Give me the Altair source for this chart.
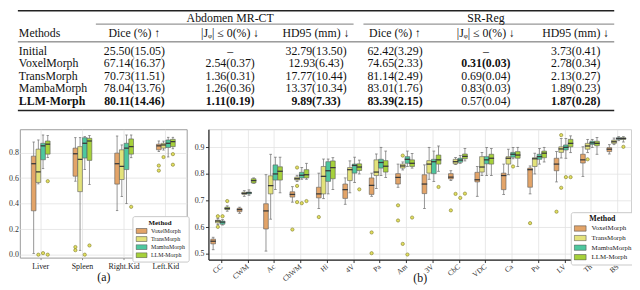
import altair as alt
import pandas as pd

FONT = "Liberation Serif"
METHODS = ["VoxelMorph", "TransMorph", "MambaMorph", "LLM-Morph"]
COLORS = ["#E3A468", "#E3E27A", "#4DC79E", "#A6D13A"]

# ---------------- table values ----------------
T_METHODS = ["Initial", "VoxelMorph", "TransMorph", "MambaMorph", "LLM-Morph"]
ABD_DICE = ["25.50(15.05)", "67.14(16.37)", "70.73(11.51)", "78.04(13.76)", "80.11(14.46)"]
ABD_JAC = ["\u2013", "2.54(0.37)", "1.36(0.31)", "1.26(0.36)", "1.11(0.19)"]
ABD_HD = ["32.79(13.50)", "12.93(6.43)", "17.77(10.44)", "13.37(10.34)", "9.89(7.33)"]
SR_DICE = ["62.42(3.29)", "74.65(2.33)", "81.14(2.49)", "83.01(1.76)", "83.39(2.15)"]
SR_JAC = ["\u2013", "0.31(0.03)", "0.69(0.04)", "0.83(0.03)", "0.57(0.04)"]
SR_HD = ["3.73(0.41)", "2.78(0.34)", "2.13(0.27)", "1.89(0.23)", "1.87(0.28)"]
# bold flags per column
B_NAME = [0, 0, 0, 0, 1]
B_ABD_DICE = [0, 0, 0, 0, 1]
B_ABD_JAC = [0, 0, 0, 0, 1]
B_ABD_HD = [0, 0, 0, 0, 1]
B_SR_DICE = [0, 0, 0, 0, 1]
B_SR_JAC = [0, 1, 0, 0, 0]
B_SR_HD = [0, 0, 0, 0, 1]
GROUPS = ["Abdomen MR-CT", "SR-Reg"]
HEAD = ["Methods", "Dice (%) \u2191", "|J\u1d69| \u2264 0(%) \u2193", "HD95 (mm) \u2193"]

# ---------------- panel (a) values ----------------
ORGANS = ["Liver", "Spleen", "Right.Kid", "Left.Kid"]
A_LO = {"VoxelMorph": [0.010, 0.576, 0.345, 0.808], "TransMorph": [0.555, 0.034, 0.455, 0.820],
        "MambaMorph": [0.674, 0.667, 0.400, 0.766], "LLM-Morph": [0.762, 0.550, 0.760, 0.830]}
A_Q1 = {"VoxelMorph": [0.344, 0.615, 0.553, 0.822], "TransMorph": [0.566, 0.494, 0.589, 0.835],
        "MambaMorph": [0.744, 0.757, 0.667, 0.840], "LLM-Morph": [0.788, 0.739, 0.788, 0.847]}
A_MED = {"VoxelMorph": [0.713, 0.791, 0.713, 0.853], "TransMorph": [0.649, 0.747, 0.692, 0.860],
         "MambaMorph": [0.853, 0.873, 0.835, 0.873], "LLM-Morph": [0.866, 0.891, 0.847, 0.886]}
A_Q3 = {"VoxelMorph": [0.772, 0.835, 0.796, 0.866], "TransMorph": [0.827, 0.847, 0.822, 0.873],
        "MambaMorph": [0.873, 0.917, 0.873, 0.899], "LLM-Morph": [0.891, 0.912, 0.907, 0.904]}
A_HI = {"VoxelMorph": [0.883, 0.917, 0.930, 0.891], "TransMorph": [0.899, 0.917, 0.860, 0.890],
        "MambaMorph": [0.938, 0.925, 0.938, 0.920], "LLM-Morph": [0.933, 0.933, 0.938, 0.920]}
A_OUT_CAT = ["Liver", "Liver", "Liver", "Liver", "Spleen", "Spleen", "Spleen", "Spleen",
             "Right.Kid", "Left.Kid", "Left.Kid", "Left.Kid", "Left.Kid", "Left.Kid"]
A_OUT_METHOD = ["TransMorph", "MambaMorph", "LLM-Morph", "LLM-Morph", "VoxelMorph", "VoxelMorph",
                "MambaMorph", "LLM-Morph", "LLM-Morph", "VoxelMorph", "VoxelMorph", "TransMorph",
                "LLM-Morph", "LLM-Morph"]
A_OUT_VAL = [0.0, 0.012, 0.0, 0.576, 0.060, 0.035, 0.0, 0.072, 0.375, 0.698, 0.659, 0.765, 0.788, 0.705]

# ---------------- panel (b) values ----------------
STRUCTS = ["CC", "CWM", "Ac", "CbWM", "Hi", "4V", "Pa", "Am", "3V", "CbC", "VDC", "Ca", "Pu", "LV", "Th", "BS"]
B_LO = {
    "VoxelMorph": [.515, .652, .510, .694, .670, .686, .716, .750, .670, .775, .716, .723, .725, .770, .791, .875],
    "TransMorph": [.610, .716, .630, .772, .707, .729, .745, .815, .780, .835, .794, .797, .800, .860, .880, .910],
    "MambaMorph": [.608, .720, .741, .780, .725, .768, .794, .828, .772, .840, .794, .857, .837, .859, .900, .925],
    "LLM-Morph": [.660, .765, .729, .780, .741, .800, .787, .822, .810, .849, .794, .828, .845, .880, .874, .920]}
B_Q1 = {
    "VoxelMorph": [.537, .658, .593, .713, .710, .708, .723, .762, .726, .781, .770, .741, .750, .812, .841, .884],
    "TransMorph": [.616, .723, .725, .777, .725, .775, .794, .822, .803, .838, .807, .837, .828, .881, .893, .915],
    "MambaMorph": [.611, .725, .777, .785, .772, .803, .822, .840, .801, .844, .838, .863, .855, .890, .911, .930],
    "LLM-Morph": [.666, .766, .777, .785, .782, .813, .807, .828, .837, .857, .837, .859, .861, .902, .906, .930]}
B_MED = {
    "VoxelMorph": [.547, .666, .661, .723, .725, .741, .757, .787, .762, .788, .778, .794, .816, .837, .853, .893],
    "TransMorph": [.623, .727, .756, .782, .791, .816, .807, .830, .837, .846, .826, .859, .857, .894, .905, .921],
    "MambaMorph": [.619, .729, .800, .795, .812, .832, .843, .855, .846, .852, .853, .874, .865, .900, .917, .933],
    "LLM-Morph": [.670, .775, .810, .797, .824, .826, .829, .840, .853, .866, .859, .871, .878, .915, .915, .933]}
B_Q3 = {
    "VoxelMorph": [.555, .671, .688, .733, .750, .762, .785, .801, .797, .801, .806, .803, .822, .859, .874, .899],
    "TransMorph": [.626, .731, .793, .788, .828, .824, .853, .837, .850, .855, .865, .865, .861, .902, .915, .927],
    "MambaMorph": [.623, .732, .834, .806, .846, .837, .855, .865, .855, .859, .865, .881, .874, .909, .923, .936],
    "LLM-Morph": [.675, .782, .827, .816, .849, .838, .850, .853, .871, .875, .874, .884, .886, .930, .923, .936]}
B_HI = {
    "VoxelMorph": [.562, .675, .797, .752, .803, .785, .803, .837, .834, .812, .828, .837, .830, .884, .902, .910],
    "TransMorph": [.632, .737, .874, .795, .856, .849, .875, .845, .900, .862, .881, .893, .878, .933, .930, .935],
    "MambaMorph": [.628, .740, .863, .824, .856, .863, .900, .886, .886, .869, .899, .899, .896, .933, .930, .940],
    "LLM-Morph": [.680, .785, .863, .840, .861, .852, .886, .877, .905, .896, .896, .900, .900, .943, .937, .940]}
B_OUT_CAT = ["CC", "CC", "CC", "CC", "CbWM", "CbWM", "CbWM", "CbWM", "CbWM", "CbWM", "Hi", "4V",
             "Pa", "Pa", "Am", "Am", "Am", "Am", "Am", "Am", "3V", "CbC", "CbC", "CbC", "CbC",
             "Ca", "Pu", "LV", "LV", "LV", "LV", "LV", "Th", "BS"]
B_OUT_METHOD = ["TransMorph", "TransMorph", "MambaMorph", "LLM-Morph",
                "VoxelMorph", "TransMorph", "TransMorph", "TransMorph", "MambaMorph", "LLM-Morph",
                "VoxelMorph", "LLM-Morph", "VoxelMorph", "VoxelMorph",
                "VoxelMorph", "VoxelMorph", "TransMorph", "TransMorph", "MambaMorph", "LLM-Morph",
                "LLM-Morph", "VoxelMorph", "TransMorph", "MambaMorph", "LLM-Morph",
                "MambaMorph", "VoxelMorph", "VoxelMorph", "TransMorph", "TransMorph", "MambaMorph",
                "LLM-Morph", "TransMorph", "LLM-Morph"]
B_OUT_VAL = [.641, .601, .641, .698, .591, .824, .755, .694, .690, .698, .638, .742,
             .580, .502, .682, .625, .869, .537, .497, .636, .751, .663, .725, .710, .726,
             .828, .615, .658, .748, .946, .788, .788, .855, .902]


def stats_df(cats, lo, q1, med, q3, hi):
    rows = []
    for m in METHODS:
        for i, c in enumerate(cats):
            rows.append(dict(cat=c, method=m, lo=lo[m][i], q1=q1[m][i], med=med[m][i],
                             q3=q3[m][i], hi=hi[m][i]))
    return pd.DataFrame(rows)


def box_panel(df, out_df, cats, xscale, xaxis, xtitle, ydomain, yaxis, width, height,
              box_w, legend, view):
    x = alt.X("cat:N", sort=cats, scale=xscale, axis=xaxis, title=xtitle)
    xo = alt.XOffset("method:N", sort=METHODS, scale=alt.Scale(domain=METHODS, paddingInner=0, paddingOuter=0))
    ysc = alt.Scale(domain=ydomain, nice=False, zero=False)

    def Y(f):
        return alt.Y(f + ":Q", scale=ysc, axis=yaxis, title=None)

    base = alt.Chart(df).encode(x=x, xOffset=xo)
    wc = "#7a7a7a"
    w_lo = base.mark_rule(color=wc, strokeWidth=0.8).encode(y=Y("lo"), y2="q1")
    w_hi = base.mark_rule(color=wc, strokeWidth=0.8).encode(y=Y("q3"), y2="hi")
    c_lo = base.mark_tick(size=box_w * 0.5, thickness=0.8, color=wc, opacity=1).encode(y=Y("lo"))
    c_hi = base.mark_tick(size=box_w * 0.5, thickness=0.8, color=wc, opacity=1).encode(y=Y("hi"))
    box = base.mark_bar(stroke="#5a5a5a", strokeWidth=0.6, opacity=1).encode(
        y=Y("q1"), y2="q3",
        color=alt.Color("method:N", scale=alt.Scale(domain=METHODS, range=COLORS), legend=legend))
    med = base.mark_tick(size=box_w, thickness=1.3, color="#3a3a3a", opacity=1).encode(y=Y("med"))
    outl = alt.Chart(out_df).mark_circle(size=11, fill="#E2DF5E", stroke="#7d7a2e",
                                         strokeWidth=0.6, opacity=1).encode(x=x, xOffset=xo, y=Y("value"))
    return alt.layer(w_lo, w_hi, c_lo, c_hi, box, med, outl).properties(
        width=width, height=height, view=view)


def legend_for(x, y, tsize, lsize, ssize, soff, loff, rowpad, clip):
    return alt.Legend(title="Method", orient="none", legendX=x, legendY=y,
                      titleFont=FONT, titleFontSize=tsize, titleFontWeight="bold",
                      titleAnchor="middle", titleColor="#111", titlePadding=2,
                      labelFont=FONT, labelFontSize=lsize, labelColor="#222", labelOffset=loff,
                      symbolType="M-2,-0.9H2V0.9H-2Z", symbolSize=ssize, symbolOffset=soff,
                      symbolStrokeColor="#555", symbolStrokeWidth=0.6, symbolOpacity=1,
                      clipHeight=clip, rowPadding=rowpad, padding=3, strokeColor="#c8c8c8",
                      fillColor="white", cornerRadius=2)


GRID = "#e2e2e2"

# ---------- panel a ----------
df_a = stats_df(ORGANS, A_LO, A_Q1, A_MED, A_Q3, A_HI)
out_a = pd.DataFrame({"cat": A_OUT_CAT, "method": A_OUT_METHOD, "value": A_OUT_VAL})
a_yaxis = alt.Axis(values=[0, 0.2, 0.4, 0.6, 0.8], format=".1f", grid=True, gridColor=GRID,
                   gridWidth=0.8, domain=False, ticks=False, labelFont=FONT, labelFontSize=8,
                   labelColor="#333", labelPadding=1.5)
a_xaxis = alt.Axis(grid=True, gridColor=GRID, gridWidth=0.8, bandPosition=0.5, domain=False,
                   ticks=True, tickSize=2, tickColor="#888", labelAngle=0, labelFont=FONT,
                   labelFontSize=8, labelColor="#222", labelPadding=3,
                   titleFont=FONT, titleFontSize=12, titleFontWeight="normal", titleColor="#111",
                   titleY=19, titleBaseline="middle")
panel_a = box_panel(df_a, out_a, ORGANS, alt.Scale(paddingInner=0.55, paddingOuter=0.275),
                    a_xaxis, "(a)", [-0.023, 0.983], a_yaxis, 169, 130, 4.8,
                    legend_for(114, 88, 7, 6, 30, 2.75, 6, 2.2, 6),
                    alt.ViewBackground(stroke="#9a9a9a", strokeWidth=1, fill="white"))

# ---------- panel b ----------
df_b = stats_df(STRUCTS, B_LO, B_Q1, B_MED, B_Q3, B_HI)
out_b = pd.DataFrame({"cat": B_OUT_CAT, "method": B_OUT_METHOD, "value": B_OUT_VAL})
b_yaxis = alt.Axis(values=[0.5, 0.6, 0.7, 0.8, 0.9], format=".1f", grid=True, gridColor=GRID,
                   gridWidth=0.8, domain=True, domainColor="#222", domainWidth=1.2, ticks=True,
                   tickSize=3, tickColor="#333", labelFont=FONT, labelFontSize=8,
                   labelColor="#333", labelPadding=1.5)
b_xaxis = alt.Axis(grid=True, gridColor=GRID, gridWidth=0.8, bandPosition=0.5, domain=True,
                   domainColor="#222", domainWidth=1.2, ticks=True, tickSize=3, tickColor="#333",
                   labelAngle=320, labelAlign="right", labelBaseline="middle", labelFont=FONT,
                   labelFontSize=7.5, labelColor="#333", labelPadding=3,
                   titleFont=FONT, titleFontSize=12, titleFontWeight="normal", titleColor="#111",
                   titleY=18, titleBaseline="middle")
panel_b = box_panel(df_b, out_b, STRUCTS, alt.Scale(paddingInner=0.18, paddingOuter=0.09),
                    b_xaxis, "(b)", [0.478, 0.968], b_yaxis, 428, 132, 5.5,
                    legend_for(367, 84, 8, 7, 36, 3, 8, 1.7, 7),
                    alt.ViewBackground(stroke="#cfcfcf", strokeWidth=1, fill="white"))

# ---------- table ----------
COLS = [ABD_DICE, ABD_JAC, ABD_HD, SR_DICE, SR_JAC, SR_HD]
BOLD = [B_ABD_DICE, B_ABD_JAC, B_ABD_HD, B_SR_DICE, B_SR_JAC, B_SR_HD]
COL_X = [116, 213, 300, 380, 472, 563]
ROW_Y = alt.Scale(type="point", domain=T_METHODS, range=[41.5, 92.2], padding=0)

layers = []
one = pd.DataFrame({"k": [0]})
# rules
for (x1, x2, yy, sw) in [(-2, 602, 0.9, 1.6), (77, 338, 14.5, 0.6), (348, 602, 14.5, 0.6),
                         (-2, 602, 32.5, 0.7), (-2, 602, 102, 1.6)]:
    layers.append(alt.Chart(one).mark_rule(color="#222", strokeWidth=sw).encode(
        x=alt.value(x1), x2=alt.value(x2), y=alt.value(yy)))
# header texts
for txt, xx, yy in [(GROUPS[0], 213, 8.5), (GROUPS[1], 472, 8.5)]:
    layers.append(alt.Chart(pd.DataFrame({"t": [txt]})).mark_text(
        font=FONT, fontSize=12, color="#111", align="center", baseline="middle").encode(
        text="t:N", x=alt.value(xx), y=alt.value(yy)))
layers.append(alt.Chart(pd.DataFrame({"t": [HEAD[0]]})).mark_text(
    font=FONT, fontSize=12, color="#111", align="left", baseline="middle").encode(
    text="t:N", x=alt.value(-1), y=alt.value(23.5)))
for i, xx in enumerate(COL_X):
    layers.append(alt.Chart(pd.DataFrame({"t": [HEAD[1 + i % 3]]})).mark_text(
        font=FONT, fontSize=12, color="#111", align="center", baseline="middle").encode(
        text="t:N", x=alt.value(xx), y=alt.value(23.5)))
# method names
names = pd.DataFrame({"method": T_METHODS, "t": T_METHODS, "b": B_NAME})
for bw in (0, 1):
    sub = names[names.b == bw]
    layers.append(alt.Chart(sub).mark_text(
        font=FONT, fontSize=12, color="#111", align="left", baseline="middle",
        fontWeight="bold" if bw else "normal").encode(
        text="t:N", x=alt.value(-1), y=alt.Y("method:N", scale=ROW_Y, axis=None)))
# data columns
for vals, bold, xx in zip(COLS, BOLD, COL_X):
    d = pd.DataFrame({"method": T_METHODS, "t": vals, "b": bold})
    for bw in (0, 1):
        sub = d[d.b == bw]
        if len(sub) == 0:
            continue
        layers.append(alt.Chart(sub).mark_text(
            font=FONT, fontSize=12, color="#111", align="center", baseline="middle",
            fontWeight="bold" if bw else "normal").encode(
            text="t:N", x=alt.value(xx), y=alt.Y("method:N", scale=ROW_Y, axis=None)))

table = alt.layer(*layers).properties(width=610, height=103,
                                      view=alt.ViewBackground(stroke="transparent"))

row = alt.hconcat(panel_a, panel_b, spacing=22, bounds="flush").resolve_scale(color="independent")
chart = alt.vconcat(table, row, spacing=18, bounds="flush").properties(
    autosize=alt.AutoSizeParams(type="none"),
    padding={"left": 12, "top": 0, "right": 620, "bottom": 282},
).configure(font=FONT, background="white")

chart.save("out.html", embed_options={"renderer": "svg", "actions": False})
